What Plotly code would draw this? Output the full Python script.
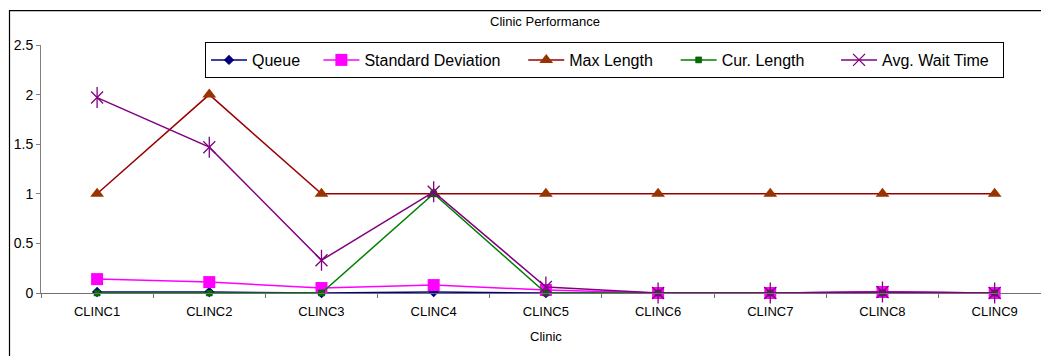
import plotly.graph_objects as go

# Clinic Performance data
clinics = ["CLINC1", "CLINC2", "CLINC3", "CLINC4", "CLINC5",
           "CLINC6", "CLINC7", "CLINC8", "CLINC9"]
queue = [0.01, 0.01, 0.0, 0.01, 0.0, 0.0, 0.0, 0.01, 0.0]
std_dev = [0.14, 0.11, 0.05, 0.08, 0.03, 0.0, 0.0, 0.01, 0.0]
max_length = [1, 2, 1, 1, 1, 1, 1, 1, 1]
cur_length = [0, 0, 0, 1, 0, 0, 0, 0, 0]
avg_wait = [1.97, 1.47, 0.33, 1.02, 0.06, 0.0, 0.0, 0.01, 0.0]

FONT = "Liberation Sans, Arial, sans-serif"
NB = "\u00a0"

series = [
    ("Queue" + NB * 3, queue, "#000080", dict(symbol="diamond", size=8, color="#000080")),
    ("Standard Deviation" + NB * 4, std_dev, "#FF00FF", dict(symbol="square", size=12, color="#FF00FF")),
    ("Max Length" + NB * 4, max_length, "#990000", dict(symbol="triangle-up", size=12, color="#993300")),
    ("Cur. Length" + NB * 6, cur_length, "#008000", dict(symbol="square", size=6, color="#007000",
                                                     line=dict(color="#004000", width=0.5))),
    ("Avg. Wait Time" + NB * 2, avg_wait, "#800080", dict(symbol="x-thin-open", size=12, color="#800080",
                                                          line=dict(color="#800080", width=1.3))),
]

fig = go.Figure()
for name, vals, lc, mk in series:
    fig.add_trace(go.Scatter(
        x=clinics, y=vals, name=name, mode="lines+markers",
        line=dict(color=lc, width=1.5), marker=mk, cliponaxis=False,
    ))

# vertical stroke completing the star marker of the wait-time series
fig.add_trace(go.Scatter(
    x=clinics, y=avg_wait, mode="markers", showlegend=False, hoverinfo="skip",
    marker=dict(symbol="line-ns-open", size=15, color="#800080",
                line=dict(color="#800080", width=1.3)),
    cliponaxis=False,
))

W, H = 1041, 356
ML, MT, MB = 41, 45, 62.7
plot_h = H - MT - MB

def py(p):
    # pixel row -> paper y
    return (H - MB - p) / plot_h

def px(p):
    # pixel column -> paper x
    return (p - ML) / 1000.0

fig.update_layout(
    width=W, height=H,
    margin=dict(l=ML, r=0, t=MT, b=MB, pad=0),
    paper_bgcolor="white", plot_bgcolor="white",
    font=dict(family=FONT, color="black", size=13),
    title=dict(text="Clinic Performance", x=px(545), xref="paper", xanchor="center",
               y=1 - 21 / H, yref="container", yanchor="middle",
               font=dict(family=FONT, size=13, color="black")),
    showlegend=True,
    legend=dict(orientation="h", x=px(205), xanchor="left", y=py(42), yanchor="top",
                bordercolor="black", borderwidth=1, bgcolor="white",
                font=dict(family=FONT, size=16, color="black"),
                itemwidth=36, tracegroupgap=0),
    xaxis=dict(type="category", range=[-0.5, 8.413], showgrid=False, zeroline=False,
               showline=True, linecolor="#707070", linewidth=1,
               ticks="outside", ticklen=4, tickcolor="#707070", tickson="boundaries",
               ticklabelstandoff=6,
               tickfont=dict(family=FONT, size=13, color="black")),
    yaxis=dict(range=[0, 2.5], dtick=0.5, showgrid=False, zeroline=False,
               showline=True, linecolor="#808080", linewidth=1,
               ticks="outside", ticklen=4, tickcolor="#808080",
               tickfont=dict(family=FONT, size=14, color="black")),
    shapes=[dict(type="rect", xref="paper", yref="paper",
                 x0=px(9.5), x1=1.1, y0=-0.6, y1=py(10.5),
                 line=dict(color="black", width=1.2), fillcolor="rgba(0,0,0,0)", layer="below")],
    annotations=[dict(text="Clinic", xref="paper", yref="paper", x=0.505, y=py(337),
                      xanchor="center", yanchor="middle", showarrow=False,
                      font=dict(family=FONT, size=13, color="black"))],
)

fig.write_html("out.html")
